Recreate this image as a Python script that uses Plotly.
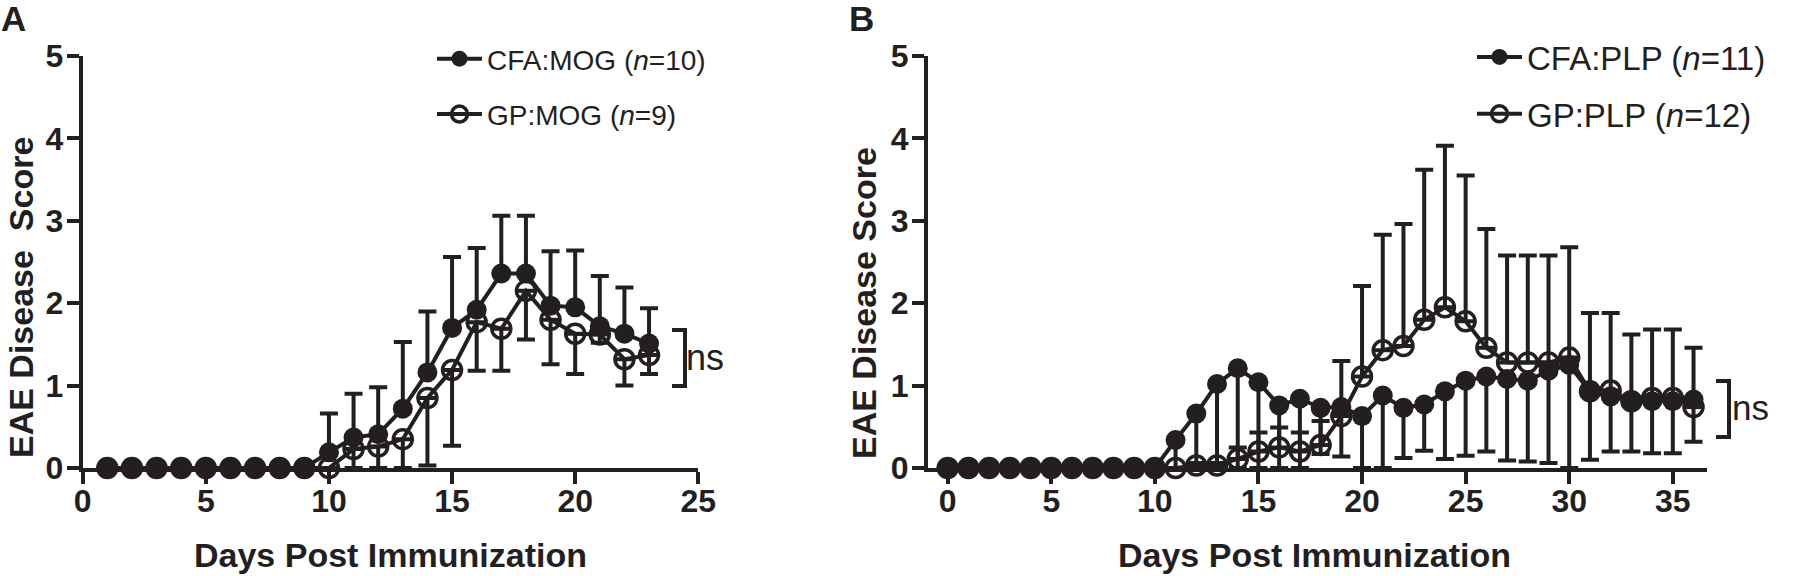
import plotly.graph_objects as go

# ---------------- data ----------------
days_a = list(range(1, 24))
cfa_mog = [0, 0, 0, 0, 0, 0, 0, 0, 0, 0.19, 0.37, 0.41, 0.72, 1.16, 1.70, 1.92, 2.36, 2.36, 1.97, 1.95, 1.72, 1.63, 1.51]
cfa_mog_upper = [0, 0, 0, 0, 0, 0, 0, 0, 0, 0.66, 0.90, 0.98, 1.53, 1.90, 2.56, 2.67, 3.06, 3.06, 2.63, 2.64, 2.33, 2.19, 1.94]
gp_mog = [0, 0, 0, 0, 0, 0, 0, 0, 0, 0, 0.23, 0.26, 0.35, 0.85, 1.19, 1.77, 1.69, 2.15, 1.80, 1.63, 1.62, 1.32, 1.37]
gp_mog_lower = [0, 0, 0, 0, 0, 0, 0, 0, 0, 0, 0, 0, 0, 0.03, 0.27, 1.18, 1.18, 1.56, 1.26, 1.14, 1.52, 1.00, 1.14]

days_b = list(range(0, 37))
cfa_plp = [0, 0, 0, 0, 0, 0, 0, 0, 0, 0, 0, 0.34, 0.66, 1.02, 1.21, 1.04, 0.76, 0.84, 0.73, 0.74, 0.63, 0.88, 0.73,
           0.77, 0.93, 1.06, 1.11, 1.08, 1.06, 1.18, 1.25, 0.93, 0.87, 0.81, 0.81, 0.81, 0.83]
cfa_plp_lower = [0, 0, 0, 0, 0, 0, 0, 0, 0, 0, 0, 0, 0, 0, 0, 0, 0, 0, 0.17, 0.14, 0, 0, 0.12,
                 0.21, 0.11, 0.15, 0.20, 0.09, 0.08, 0.06, 0, 0.10, 0.20, 0.20, 0.18, 0.18, 0.32]
gp_plp = [0, 0, 0, 0, 0, 0, 0, 0, 0, 0, 0, 0, 0.03, 0.03, 0.11, 0.20, 0.25, 0.20, 0.28, 0.63, 1.11, 1.43, 1.48,
          1.80, 1.95, 1.78, 1.46, 1.28, 1.28, 1.28, 1.34, 0.93, 0.94, 0.81, 0.85, 0.85, 0.74]
gp_plp_upper = [0, 0, 0, 0, 0, 0, 0, 0, 0, 0, 0, 0, 0.06, 0.06, 0.25, 0.43, 0.49, 0.43, 0.57, 1.30, 2.21, 2.83, 2.96,
                3.62, 3.91, 3.55, 2.90, 2.58, 2.58, 2.58, 2.68, 1.88, 1.88, 1.62, 1.68, 1.68, 1.46]

x_ticks_a = [0, 5, 10, 15, 20, 25]
x_ticks_b = [0, 5, 10, 15, 20, 25, 30, 35]
y_ticks = [0, 1, 2, 3, 4, 5]

names = ["CFA:MOG (<i>n</i>=10)", "GP:MOG (<i>n</i>=9)", "CFA:PLP (<i>n</i>=11)", "GP:PLP (<i>n</i>=12)"]

# ---------------- style ----------------
INK = "#231f20"
W, H = 1800, 576
FONT = "Liberation Sans, Arial, sans-serif"
LW = 4


def px(x):
    return x / W


def py(y):
    return 1 - y / H


def up(vals, ends):
    return [max(e - v, 0) for v, e in zip(vals, ends)]


def zeros(vals):
    return [0 for _ in vals]


fig = go.Figure()

# Panel A
fig.add_trace(go.Scatter(
    x=days_a, y=cfa_mog, mode="lines+markers", name=names[0],
    line=dict(color=INK, width=LW),
    marker=dict(symbol="circle", size=20, color=INK),
    error_y=dict(type="data", symmetric=False, array=up(cfa_mog, cfa_mog_upper),
                 arrayminus=zeros(cfa_mog), color=INK, thickness=LW, width=9),
    cliponaxis=False, xaxis="x", yaxis="y", legend="legend", legendgroup="a1"))
fig.add_trace(go.Scatter(
    x=days_a, y=gp_mog, mode="lines+markers", name=names[1],
    line=dict(color=INK, width=LW),
    marker=dict(symbol="circle-open", size=19, color=INK, line=dict(width=3.5, color=INK)),
    error_y=dict(type="data", symmetric=False, array=zeros(gp_mog),
                 arrayminus=up(gp_mog_lower, gp_mog), color=INK, thickness=LW, width=9),
    cliponaxis=False, xaxis="x", yaxis="y", legend="legend", legendgroup="a2"))

# Panel B
fig.add_trace(go.Scatter(
    x=days_b, y=cfa_plp, mode="lines+markers", name=names[2],
    line=dict(color=INK, width=LW),
    marker=dict(symbol="circle", size=20, color=INK),
    error_y=dict(type="data", symmetric=False, array=zeros(cfa_plp),
                 arrayminus=up(cfa_plp_lower, cfa_plp), color=INK, thickness=LW, width=9),
    cliponaxis=False, xaxis="x2", yaxis="y2", legend="legend2", legendgroup="b1"))
fig.add_trace(go.Scatter(
    x=days_b, y=gp_plp, mode="lines+markers", name=names[3],
    line=dict(color=INK, width=LW),
    marker=dict(symbol="circle-open", size=19, color=INK, line=dict(width=3.5, color=INK)),
    error_y=dict(type="data", symmetric=False, array=up(gp_plp, gp_plp_upper),
                 arrayminus=zeros(gp_plp), color=INK, thickness=LW, width=9),
    cliponaxis=False, xaxis="x2", yaxis="y2", legend="legend2", legendgroup="b2"))

y_dom = [py(468), py(56)]
axis_common = dict(showline=True, linecolor=INK, linewidth=LW, ticks="outside", ticklen=12,
                   tickwidth=LW, tickcolor=INK, showgrid=False, zeroline=False, automargin=False,
                   tickfont=dict(family=FONT, size=32, color=INK, weight="bold"))

fig.update_layout(
    width=W, height=H, autosize=False,
    margin=dict(l=0, r=0, t=0, b=0, autoexpand=False),
    paper_bgcolor="white", plot_bgcolor="white",
    xaxis=dict(domain=[px(82.7), px(698.3)], range=[0, 25], tickvals=x_ticks_a,
               anchor="y", ticklabelstandoff=-10, **axis_common),
    yaxis=dict(domain=y_dom, range=[0, 5], tickvals=y_ticks, anchor="x", ticklabelstandoff=-3, **axis_common),
    xaxis2=dict(domain=[px(928), px(1707)], range=[-0.95, 36.65], tickvals=x_ticks_b,
                anchor="y2", ticklabelstandoff=-10, **axis_common),
    yaxis2=dict(domain=y_dom, range=[0, 5], tickvals=y_ticks, anchor="x2", ticklabelstandoff=-3, **axis_common),
    legend=dict(x=px(432), y=py(34), xanchor="left", yanchor="top",
                font=dict(family=FONT, size=28, color=INK), bgcolor="rgba(0,0,0,0)",
                tracegroupgap=16, traceorder="grouped", itemwidth=45),
    legend2=dict(x=px(1472), y=py(29), xanchor="left", yanchor="top",
                 font=dict(family=FONT, size=33, color=INK), bgcolor="rgba(0,0,0,0)",
                 tracegroupgap=11, traceorder="grouped", itemwidth=45),
    showlegend=True,
)

annots = [
    dict(text="<b>A</b>", x=px(-1), y=py(-3), xanchor="left", yanchor="top",
         font=dict(family=FONT, size=35, color=INK)),
    dict(text="<b>B</b>", x=px(847), y=py(-3), xanchor="left", yanchor="top",
         font=dict(family=FONT, size=35, color=INK)),
    dict(text="<b>Days Post Immunization</b>", x=px(390.5), y=py(555), xanchor="center", yanchor="middle",
         font=dict(family=FONT, size=34, color=INK)),
    dict(text="<b>Days Post Immunization</b>", x=px(1314), y=py(555), xanchor="center", yanchor="middle",
         font=dict(family=FONT, size=34, color=INK)),
    dict(text="<b>EAE Disease\u00a0 Score</b>", x=px(21), y=py(298), xanchor="center", yanchor="middle",
         textangle=-90, font=dict(family=FONT, size=34, color=INK)),
    dict(text="<b>EAE Disease Score</b>", x=px(864), y=py(303), xanchor="center", yanchor="middle",
         textangle=-90, font=dict(family=FONT, size=34, color=INK)),
    dict(text="ns", x=px(684), y=py(357), xanchor="left", yanchor="middle",
         font=dict(family=FONT, size=36, color=INK)),
    dict(text="ns", x=px(1730), y=py(407), xanchor="left", yanchor="middle",
         font=dict(family=FONT, size=35, color=INK)),
]
for a in annots:
    a.update(xref="paper", yref="paper", showarrow=False)
fig.update_layout(annotations=annots)


def bracket(x0, x1, y0, y1):
    path = f"M{px(x0)},{py(y0)} L{px(x1)},{py(y0)} L{px(x1)},{py(y1)} L{px(x0)},{py(y1)}"
    return dict(type="path", xref="paper", yref="paper", path=path,
                line=dict(color=INK, width=LW))


fig.update_layout(shapes=[bracket(672, 685, 330, 386), bracket(1716, 1729, 381, 437)])

fig.write_html("out.html", config={"displayModeBar": False},
               post_script="document.body.style.margin='0px';document.body.style.overflow='hidden';")
